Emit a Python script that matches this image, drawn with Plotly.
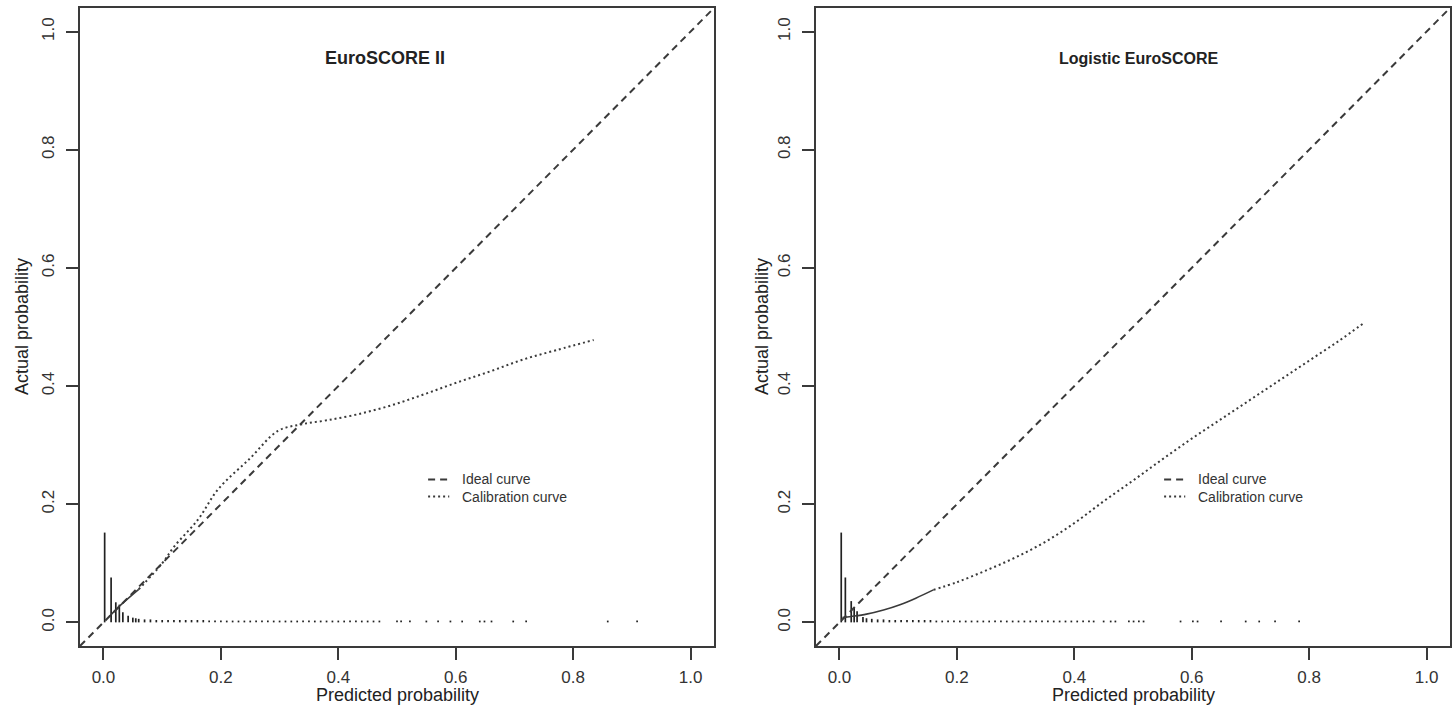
import plotly.graph_objects as go

# ---------------- data ----------------
tick_vals = [0.0, 0.2, 0.4, 0.6, 0.8, 1.0]
tick_text = ["0.0", "0.2", "0.4", "0.6", "0.8", "1.0"]
axis_range = [-0.04, 1.04]

panel_titles = ["EuroSCORE II", "Logistic EuroSCORE"]
legend_labels = ["Ideal curve", "Calibration curve"]

# ideal curve (y = x), drawn across the whole plotting region
ideal_x = [-0.04, 1.04]
ideal_y = [-0.04, 1.04]

# EuroSCORE II calibration curve
cal1_x = [0.010, 0.030, 0.060, 0.100, 0.121, 0.161, 0.195, 0.250, 0.297, 0.336,
          0.380, 0.432, 0.489, 0.546, 0.602, 0.659, 0.715, 0.772, 0.835]
cal1_y = [0.010, 0.030, 0.056, 0.100, 0.129, 0.174, 0.225, 0.278, 0.324, 0.335,
          0.342, 0.352, 0.367, 0.386, 0.406, 0.425, 0.445, 0.461, 0.478]
cal1_solid_n = 3   # first points drawn as a dense (solid-looking) curve

# Logistic EuroSCORE calibration curve
cal2_x = [0.005, 0.020, 0.046, 0.075, 0.103, 0.130, 0.160, 0.200, 0.250, 0.300,
          0.350, 0.400, 0.450, 0.500, 0.550, 0.600, 0.650, 0.700, 0.750, 0.800,
          0.850, 0.895]
cal2_y = [0.008, 0.010, 0.014, 0.021, 0.030, 0.041, 0.055, 0.068, 0.088, 0.110,
          0.136, 0.168, 0.205, 0.240, 0.276, 0.311, 0.344, 0.377, 0.410, 0.443,
          0.476, 0.508]
cal2_solid_n = 7

# spike histograms of predicted probabilities (position, height)
spk1_x = [0.002, 0.013, 0.021, 0.027, 0.033, 0.042, 0.050, 0.055, 0.060,
          0.07, 0.08, 0.09, 0.10, 0.11, 0.12, 0.13, 0.14, 0.15, 0.16, 0.17,
          0.18, 0.19, 0.20, 0.21, 0.22, 0.23, 0.24, 0.25, 0.26, 0.27, 0.28,
          0.29, 0.30, 0.31, 0.32, 0.33, 0.34, 0.35, 0.36, 0.37, 0.38, 0.39,
          0.40, 0.41, 0.42, 0.43, 0.44, 0.45, 0.46, 0.47,
          0.500, 0.507, 0.522, 0.550, 0.570, 0.591, 0.611, 0.641, 0.649,
          0.661, 0.698, 0.720, 0.859, 0.909]
spk1_h = [0.152, 0.076, 0.034, 0.030, 0.017, 0.011, 0.008, 0.007, 0.006,
          0.005, 0.005, 0.004, 0.004, 0.004, 0.004, 0.004, 0.004, 0.004, 0.004, 0.004,
          0.003, 0.003, 0.003, 0.003, 0.003, 0.003, 0.003, 0.003, 0.003, 0.003, 0.003,
          0.003, 0.003, 0.003, 0.003, 0.003, 0.003, 0.003, 0.003, 0.003, 0.003, 0.003,
          0.003, 0.003, 0.003, 0.003, 0.003, 0.003, 0.003, 0.003,
          0.003, 0.003, 0.003, 0.003, 0.003, 0.003, 0.003, 0.003, 0.003,
          0.003, 0.003, 0.003, 0.003, 0.003]

spk2_x = [0.003, 0.010, 0.020, 0.025, 0.030, 0.040, 0.046, 0.055,
          0.065, 0.075, 0.085, 0.095, 0.105, 0.115, 0.125, 0.135, 0.145, 0.155,
          0.165, 0.175, 0.185, 0.195, 0.205, 0.215, 0.225, 0.235, 0.245, 0.255,
          0.265, 0.275, 0.285, 0.295, 0.305, 0.315, 0.325, 0.335, 0.345, 0.355,
          0.365, 0.375, 0.385, 0.395, 0.405, 0.415, 0.425, 0.433,
          0.450, 0.462, 0.470, 0.493, 0.501, 0.510, 0.518, 0.581, 0.602,
          0.610, 0.650, 0.692, 0.715, 0.742, 0.783]
spk2_h = [0.152, 0.076, 0.036, 0.025, 0.019, 0.009, 0.007, 0.006,
          0.005, 0.005, 0.004, 0.004, 0.004, 0.004, 0.004, 0.004, 0.004, 0.004,
          0.003, 0.003, 0.003, 0.003, 0.003, 0.003, 0.003, 0.003, 0.003, 0.003,
          0.003, 0.003, 0.003, 0.003, 0.003, 0.003, 0.003, 0.003, 0.003, 0.003,
          0.003, 0.003, 0.003, 0.003, 0.003, 0.003, 0.003, 0.003,
          0.003, 0.003, 0.003, 0.003, 0.003, 0.003, 0.003, 0.003, 0.003,
          0.003, 0.003, 0.003, 0.003, 0.003, 0.003]

# ---------------- styling ----------------
INK = "#3a3a3a"
FONT = "Liberation Sans, Arial, Helvetica, sans-serif"


def spikes(xs, hs):
    px, py = [], []
    for x, h in zip(xs, hs):
        px += [x, x, None]
        py += [0.0, h, None]
    return px, py


fig = go.Figure()

panels = [
    (cal1_x, cal1_y, cal1_solid_n, spk1_x, spk1_h, "x", "y"),
    (cal2_x, cal2_y, cal2_solid_n, spk2_x, spk2_h, "x2", "y2"),
]
for cx, cy, ns, sx, sh, xa, ya in panels:
    sxp, syp = spikes(sx, sh)
    fig.add_trace(go.Scatter(x=sxp, y=syp, mode="lines", xaxis=xa, yaxis=ya,
                             line=dict(color="#222222", width=1.7),
                             showlegend=False, hoverinfo="skip"))
    fig.add_trace(go.Scatter(x=ideal_x, y=ideal_y, mode="lines", xaxis=xa, yaxis=ya,
                             line=dict(color=INK, width=2, dash="7px,5px"),
                             name=legend_labels[0], showlegend=False))
    fig.add_trace(go.Scatter(x=cx[:ns], y=cy[:ns], mode="lines", xaxis=xa, yaxis=ya,
                             line=dict(color=INK, width=1.6, shape="spline"),
                             name=legend_labels[1], showlegend=False))
    fig.add_trace(go.Scatter(x=cx[ns - 1:], y=cy[ns - 1:], mode="lines", xaxis=xa, yaxis=ya,
                             line=dict(color=INK, width=2, dash="2px,3px", shape="spline"),
                             name=legend_labels[1], showlegend=False))

axis_common = dict(
    range=axis_range, tickvals=tick_vals, ticktext=tick_text,
    showgrid=False, zeroline=False, showline=True, mirror=True,
    linecolor=INK, linewidth=1.5, ticks="outside", ticklen=12,
    tickwidth=1.5, tickcolor=INK,
    tickfont=dict(family=FONT, size=17, color="#333333"),
)

ydom = [1 - 646 / 726, 1 - 8 / 726]
fig.update_layout(
    width=1452, height=726,
    margin=dict(l=0, r=0, t=0, b=0),
    paper_bgcolor="white", plot_bgcolor="white",
    showlegend=False,
    xaxis=dict(domain=[80 / 1452, 714 / 1452], anchor="y", ticklabelstandoff=3, **axis_common),
    yaxis=dict(domain=ydom, anchor="x", tickangle=-90, ticklabelstandoff=5, **axis_common),
    xaxis2=dict(domain=[816 / 1452, 1450 / 1452], anchor="y2", ticklabelstandoff=3, **axis_common),
    yaxis2=dict(domain=ydom, anchor="x2", tickangle=-90, ticklabelstandoff=5, **axis_common),
)

annotations = []
shapes = []
title_x = [0.48, 0.51]
title_size = [18, 16]
for i, (xr, yr) in enumerate([("x", "y"), ("x2", "y2")]):
    annotations.append(dict(text="<b>" + panel_titles[i] + "</b>", x=title_x[i], y=0.955,
                            xref=xr, yref=yr, showarrow=False,
                            font=dict(family=FONT, size=title_size[i], color="#222222"),
                            xanchor="center", yanchor="middle"))
    # legend
    leg_y = [0.242, 0.213]
    dashes = ["7px,5px", "2px,3px"]
    for j in range(2):
        shapes.append(dict(type="line", xref=xr, yref=yr, x0=0.553, x1=0.589,
                           y0=leg_y[j], y1=leg_y[j],
                           line=dict(color=INK, width=2, dash=dashes[j])))
        annotations.append(dict(text=legend_labels[j], x=0.608, y=leg_y[j], xref=xr, yref=yr,
                                showarrow=False, xanchor="left", yanchor="middle",
                                font=dict(family=FONT, size=14, color="#333333")))

# axis titles
for cx_px in [397, 1133]:
    annotations.append(dict(text="Predicted probability", x=cx_px / 1452, y=1 - 695 / 726,
                            xref="paper", yref="paper", showarrow=False,
                            xanchor="center", yanchor="middle",
                            font=dict(family=FONT, size=18, color="#222222")))
for cx_px in [22, 762]:
    annotations.append(dict(text="Actual probability", x=cx_px / 1452, y=1 - 327 / 726,
                            xref="paper", yref="paper", showarrow=False, textangle=-90,
                            xanchor="center", yanchor="middle",
                            font=dict(family=FONT, size=18, color="#222222")))

fig.update_layout(annotations=annotations, shapes=shapes)
fig.write_html("out.html", config={"displayModeBar": False},
               post_script="document.body.style.margin='0px';")
